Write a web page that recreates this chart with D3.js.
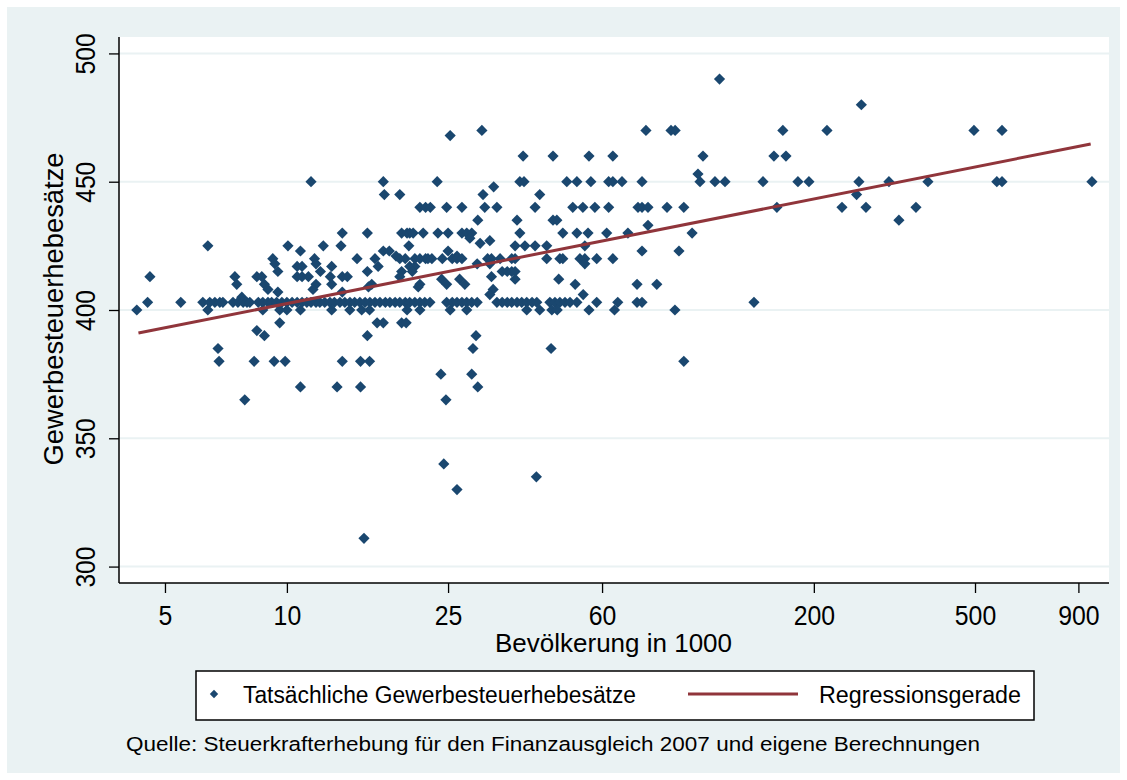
<!DOCTYPE html>
<html><head><meta charset="utf-8">
<script src="https://cdn.jsdelivr.net/npm/d3@7"></script>
<style>html,body{margin:0;padding:0;background:#fff;}svg{display:block;}</style>
</head><body>
<script>
// ---------- data (Bevölkerung in 1000 by Gewerbesteuerhebesatz) ----------
const xTicks = [5, 10, 25, 60, 200, 500, 900];
const yTicks = [300, 350, 400, 450, 500];
const pop490 = [117];
const pop480 = [262];
const pop470 = [30.3, 77, 88.8, 90.9, 167.7, 215.5, 497, 583];
const pop468 = [25.3];
const pop460 = [38.3, 45.4, 55.7, 63.8, 106.5, 159.4, 170.7];
const pop453 = [103.5];
const pop450 = [11.47, 17.3, 23.5, 37.6, 38.5, 49.1, 52.0, 56.3, 62.3, 63.8, 67.2, 75.3, 104.7, 114, 120.7, 149.8, 182.7, 194.5, 258.4, 306.5, 382.6, 566, 583, 972];
const pop448 = [32.4];
const pop445 = [17.4, 19.0, 30.5, 42.1, 255];
const pop440 = [21.3, 22.0, 22.6, 24.8, 27.05, 30.8, 33.0, 41.0, 50.8, 53.8, 57.6, 62.3, 73.6, 75.3, 77.9, 86.8, 95.5, 162.1, 234.7, 269, 357.4];
const pop435 = [29.6, 37.0, 45.4, 46.4, 324.4];
const pop433 = [77.9];
const pop430 = [13.7, 15.8, 19.2, 19.8, 20.1, 20.5, 21.7, 23.6, 25.0, 27.05, 27.8, 28.6, 37.6, 48.0, 52.0, 55.4, 61.6, 69.5, 100.1];
const pop428 = [28.3];
const pop427 = [31.7];
const pop426 = [30.0];
const pop425 = [6.38, 10.06, 12.3, 13.6, 20.0, 36.6, 38.7, 41.0, 43.8, 54.4];
const pop423 = [10.8, 17.3, 17.9, 25.0, 75.3, 92.9];
const pop421 = [18.6, 26.3];
const pop420 = [9.23, 11.7, 14.9, 16.5, 19.0, 19.6, 20.7, 21.3, 22.0, 22.3, 22.8, 24.2, 25.6, 26.3, 27.05, 31.3, 32.0, 33.6, 35.9, 36.6, 43.8, 47.2, 48.0, 52.9, 54.4, 58.2, 63.8];
const pop418 = [9.34, 11.8, 29.5, 31.7, 54.4];
const pop417 = [10.6, 10.9, 12.9, 16.8, 20.1, 20.7];
const pop415 = [9.5, 12.1, 15.8, 19.2, 20.4, 34.0, 35.0, 35.9, 36.6];
const pop413 = [4.59, 7.44, 8.43, 8.67, 10.6, 10.9, 11.3, 12.8, 13.7, 14.1, 19.0, 32.0];
const pop412 = [24.1, 26.7, 36.6, 46.9];
const pop410 = [7.52, 8.8, 11.8, 12.9, 16.2, 21.3, 24.8, 27.5, 51.5, 73.2, 81.9];
const pop409 = [15.9, 21.1];
const pop408 = [8.98, 11.6, 32.3];
const pop407 = [9.5, 13.7];
const pop406 = [31.7, 53.9];
const pop405 = [7.74];
const pop403 = [4.53, 5.47, 6.2, 6.45, 6.64, 6.83, 6.95, 7.36, 7.57, 7.80, 7.97, 8.10,
  8.5, 8.72, 8.98, 9.17, 9.43, 9.72, 10.0, 10.3, 10.6, 10.9, 11.2, 11.47, 11.8, 12.06, 12.4, 12.77, 13.1, 13.52, 13.9, 14.31, 14.7, 15.14, 15.6, 16.03, 16.5, 16.97, 17.5, 17.96, 18.5, 19.0, 19.6, 20.1, 20.7, 21.3, 21.9, 22.55,
  24.8, 25.6, 26.3, 27.05, 27.8, 28.6, 29.5,
  33.0, 34.0, 35.0, 35.9, 37.0, 38.0, 39.1, 40.3, 41.4,
  44.6, 45.9, 47.2, 48.6, 50.0, 52.0, 58.2, 65.6, 73.2, 75.3, 142.3];
const pop400 = [4.26, 6.38, 8.72, 9.6, 10.0, 10.8, 12.9, 14.3, 15.3, 16.0, 19.8, 21.3, 25.3, 27.8, 39.1, 42.1, 45.1, 46.5, 55.7, 64.4, 90.8];
const pop395 = [9.6, 16.7, 17.3, 19.2, 19.7];
const pop392 = [8.43];
const pop390 = [8.8, 15.8, 29.3];
const pop385 = [6.76, 28.8, 44.9];
const pop380 = [6.80, 8.3, 9.3, 9.9, 13.7, 15.2, 16.0, 95.5];
const pop375 = [24.0, 28.6];
const pop370 = [10.8, 13.3, 15.2, 29.6];
const pop365 = [7.87, 24.7];
const pop340 = [24.4];
const pop335 = [41.3];
const pop330 = [26.3];
const pop311 = [15.5];
const rateLevels = [490,480,470,468,460,453,450,448,445,440,435,433,430,428,427,426,425,423,421,420,418,417,415,413,412,410,409,408,407,406,405,403,400,395,392,390,385,380,375,370,365,340,335,330,311];
const popByLevel = [pop490,pop480,pop470,pop468,pop460,pop453,pop450,pop448,pop445,pop440,pop435,pop433,pop430,pop428,pop427,pop426,pop425,pop423,pop421,pop420,pop418,pop417,pop415,pop413,pop412,pop410,pop409,pop408,pop407,pop406,pop405,pop403,pop400,pop395,pop392,pop390,pop385,pop380,pop375,pop370,pop365,pop340,pop335,pop330,pop311];
// regression line (fitted values at the min / max population)
const regPop = [4.3, 965];
const regRate = [391, 464.7];

const seriesNames = ["Tatsächliche Gewerbesteuerhebesätze", "Regressionsgerade"];
const xTitle = "Bevölkerung in 1000";
const yTitle = "Gewerbesteuerhebesätze";
const note = "Quelle: Steuerkrafterhebung für den Finanzausgleich 2007 und eigene Berechnungen";

// ---------- drawing ----------
const W = 1127, H = 780;
const navy = "#1A476F", maroon = "#90353B", bg = "#EAF2F3", grid = "#EAF2F3";
const FONT = "'Liberation Sans', Arial, Helvetica, sans-serif";
const svg = d3.select("body").append("svg").attr("width", W).attr("height", H);

svg.append("rect").attr("x", 7).attr("y", 7).attr("width", 1113).attr("height", 766).attr("fill", bg);

const plot = {l: 119, r: 1109, t: 37, b: 583};
svg.append("rect").attr("x", plot.l).attr("y", plot.t).attr("width", plot.r - plot.l).attr("height", plot.b - plot.t).attr("fill", "#fff");

const x = d3.scaleLog().domain([3.85, 1071]).range([plot.l, plot.r]);
const y = d3.scaleLinear().domain([293.6, 506.4]).range([plot.b, plot.t]);

// gridlines
svg.append("g").selectAll("line").data(yTicks).join("line")
  .attr("x1", plot.l).attr("x2", plot.r)
  .attr("y1", d => y(d)).attr("y2", d => y(d))
  .attr("stroke", grid).attr("stroke-width", 2);

// points
const pts = [];
rateLevels.forEach((r, i) => popByLevel[i].forEach(p => pts.push({p, r})));
const diamond = s => `M0,${-s}L${s},0L0,${s}L${-s},0Z`;
svg.append("g").selectAll("path").data(pts).join("path")
  .attr("transform", d => `translate(${x(d.p)},${y(d.r)})`)
  .attr("d", diamond(5.6)).attr("fill", navy);

// regression line
const regData = regPop.map((p, i) => ({p, r: regRate[i]}));
svg.append("path").datum(regData)
  .attr("d", d3.line().x(d => x(d.p)).y(d => y(d.r)))
  .attr("fill", "none").attr("stroke", maroon).attr("stroke-width", 3);

// axes
const xAxis = d3.axisBottom(x).tickValues(xTicks).tickFormat(d3.format("d")).tickSize(10).tickPadding(12);
const gx = svg.append("g").attr("transform", `translate(0,${plot.b})`).call(xAxis);
gx.select(".domain").attr("d", `M${plot.l},0H${plot.r}`).attr("stroke", "#000").attr("stroke-width", 1.5);
gx.selectAll(".tick line").attr("stroke", "#000").attr("stroke-width", 1.3);
gx.selectAll(".tick text").attr("font-family", FONT).attr("font-size", 28).attr("fill", "#000")
  .attr("y", null).attr("dy", null).attr("transform", "translate(0,42)")
  .attr("textLength", d => String(d).length * 13.8).attr("lengthAdjust", "spacingAndGlyphs");

const yAxis = d3.axisLeft(y).tickValues(yTicks).tickSize(10);
const gy = svg.append("g").attr("transform", `translate(${plot.l},0)`).call(yAxis);
gy.select(".domain").attr("d", `M0,${plot.t}V${plot.b}`).attr("stroke", "#000").attr("stroke-width", 1.5);
gy.selectAll(".tick line").attr("stroke", "#000").attr("stroke-width", 1.3);
gy.selectAll(".tick text").attr("font-family", FONT).attr("font-size", 28).attr("fill", "#000")
  .attr("x", null).attr("dy", null).attr("text-anchor", "middle")
  .attr("transform", "translate(-24,0) rotate(-90)")
  .attr("textLength", 41).attr("lengthAdjust", "spacingAndGlyphs");

// titles
svg.append("text").attr("x", 613.5).attr("y", 652).attr("text-anchor", "middle")
  .attr("font-family", FONT).attr("font-size", 26).attr("fill", "#000")
  .attr("textLength", 237).attr("lengthAdjust", "spacingAndGlyphs").text(xTitle);
svg.append("text").attr("transform", "translate(63,309) rotate(-90)").attr("text-anchor", "middle")
  .attr("font-family", FONT).attr("font-size", 27.5).attr("fill", "#000")
  .attr("textLength", 313).attr("lengthAdjust", "spacingAndGlyphs").text(yTitle);

// legend
const lg = svg.append("g");
lg.append("rect").attr("x", 196).attr("y", 671).attr("width", 838).attr("height", 49)
  .attr("fill", "#fff").attr("stroke", "#000").attr("stroke-width", 1.5);
lg.append("path").attr("transform", "translate(214,694)").attr("d", diamond(4.2)).attr("fill", navy);
lg.append("text").attr("x", 243).attr("y", 703).attr("font-family", FONT).attr("font-size", 23).attr("fill", "#000")
  .attr("textLength", 393).attr("lengthAdjust", "spacingAndGlyphs").text(seriesNames[0]);
lg.append("line").attr("x1", 688).attr("x2", 798).attr("y1", 694).attr("y2", 694)
  .attr("stroke", maroon).attr("stroke-width", 3);
lg.append("text").attr("x", 819).attr("y", 703).attr("font-family", FONT).attr("font-size", 23).attr("fill", "#000")
  .attr("textLength", 202).attr("lengthAdjust", "spacingAndGlyphs").text(seriesNames[1]);

// note
svg.append("text").attr("x", 126).attr("y", 751).attr("font-family", FONT).attr("font-size", 20.5).attr("fill", "#000")
  .attr("textLength", 854).attr("lengthAdjust", "spacingAndGlyphs").text(note);
</script>
</body></html>
